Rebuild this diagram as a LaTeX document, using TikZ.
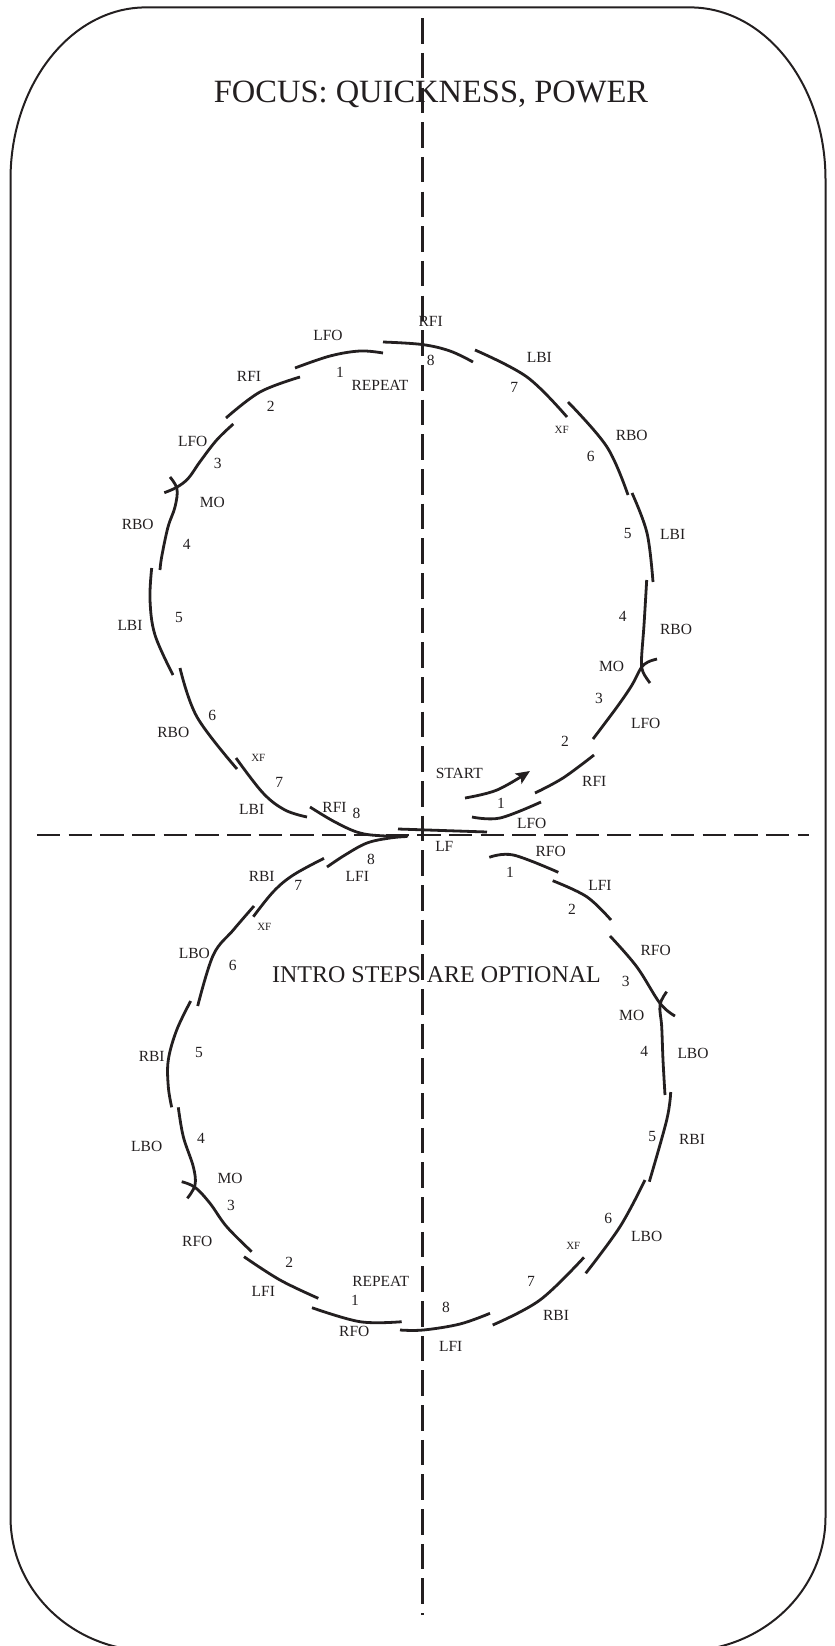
\documentclass[tikz,border=0pt]{standalone}
\usepackage{fontspec}
\setmainfont{Liberation Serif}
\usetikzlibrary{arrows.meta}
\definecolor{ink}{HTML}{231F20}
\begin{document}
\begin{tikzpicture}[x=1pt,y=-1pt,
  edge/.style={draw=ink, line width=2.8pt},
  lbl/.style={text=ink, font=\fontsize{15.5}{18}\selectfont, inner sep=0pt},
  xf/.style={text=ink, font=\fontsize{11}{13}\selectfont, inner sep=0pt},
  title/.style={text=ink, inner sep=0pt},
  axisv/.style={draw=ink, line width=2.5pt, dash pattern=on 25.5pt off 9.17pt},
  axish/.style={draw=ink, line width=2.5pt, dash pattern=on 23.5pt off 8.2pt},
  frame/.style={draw=ink, line width=2pt},
  sk/.style={smooth, tension=0.6}]
\useasboundingbox (0,0) rectangle (835,1646);
\begin{scope}
\clip (0,0) rectangle (835,1646);
\draw[frame] (146,7.4) -- (690,7.4) .. controls (764.8,7.4) and (825.5,84.4) .. (825.5,179.4)
  -- (825.5,1517) .. controls (825.5,1591) and (761.9,1651) .. (683.5,1651)
  -- (151.5,1651) .. controls (73.1,1651) and (10.5,1591) .. (10.5,1517)
  -- (10.5,179.4) .. controls (10.5,84.4) and (71.2,7.4) .. cycle;
\end{scope}

% axes
\coordinate (vtop) at (422.5,18.3);
\coordinate (vbot) at (422.5,1614.5);
\coordinate (hl) at (36.8,835);
\coordinate (hr) at (809,835);
\draw[axisv] (vtop) -- (vbot);
\draw[axish] (hl) -- (hr);

% titles
\node[title, font=\fontsize{32.5}{36}\selectfont] (focus) at (431,94) {FOCUS: QUICKNESS, POWER};
\node[title, font=\fontsize{24}{28}\selectfont] (intro) at (436.5,975) {INTRO STEPS ARE OPTIONAL};

% ---------- upper loop ----------
\draw[edge] plot[sk] coordinates {(295,368) (330,356) (360,351) (383,353)};
\draw[edge] plot[sk] coordinates {(383,342) (422,344.5) (450,351) (473,362)};
\draw[edge] plot[sk] coordinates {(475,350) (527,377) (567,417)};
\draw[edge] plot[sk] coordinates {(568,402) (607,447) (628,495)};
\draw[edge] plot[sk] coordinates {(632,493) (647,533) (653,582)};
\draw[edge] plot[sk] coordinates {(646.7,580) (644,625) (641.5,660) (643,672) (650,683)};
\draw[edge] plot[sk] coordinates {(593,739) (617,707) (632,685) (641,668) (648,662) (657,659)};
\draw[edge] plot[sk] coordinates {(535,793) (563,778) (594,755)};
\draw[edge] plot[sk] coordinates {(472,817) (500,818) (541,802)};
\draw[edge, -{Stealth[length=14pt,width=12pt,inset=3pt]}] plot[sk] coordinates {(465,798) (497,790) (530,771)};
\coordinate (lfa) at (398,829);
\coordinate (lfb) at (487,832);
\draw[edge] (lfa) -- (lfb);
\draw[edge] plot[sk] coordinates {(310,807) (335,822) (360,833) (386,836) (408,836)};
\draw[edge] plot[sk] coordinates {(236,758) (263,793) (285,810) (307,817)};
\draw[edge] plot[sk] coordinates {(180,668) (197,717) (237,769)};
\draw[edge] plot[sk] coordinates {(151.7,568) (150,600) (155,635) (173,675)};
\draw[edge] plot[sk] coordinates {(170,477) (177,489) (175,507) (168,527) (161.7,556.7) (160,570)};
\draw[edge] plot[sk] coordinates {(233.3,424) (216.7,440) (200,461.7) (188.3,478.3) (176.7,487.3) (164.3,492.7)};
\draw[edge] plot[sk] coordinates {(226,418) (260,392) (300,377)};

% ---------- lower loop ----------
\draw[edge] plot[sk] coordinates {(327,867) (345,855) (367,843) (390,838) (407,836.5)};
\draw[edge] plot[sk] coordinates {(253.3,916.7) (273.3,891.7) (293.3,875) (324,858.3)};
\draw[edge] plot[sk] coordinates {(254,906) (233.3,930) (213.3,955) (197.7,1006)};
\draw[edge] plot[sk] coordinates {(190.7,1001) (176.7,1030) (168.3,1060) (168.3,1086.7) (171.7,1107.3)};
\draw[edge] plot[sk] coordinates {(178.3,1107.3) (183.3,1136.7) (193.3,1166.7) (195,1185) (187.3,1198.3)};
\draw[edge] plot[sk] coordinates {(181.7,1181.7) (195,1187.3) (210,1203.3) (226.7,1226.7) (251.7,1251.7)};
\draw[edge] plot[sk] coordinates {(244,1256.7) (280,1280) (318.3,1298.3)};
\draw[edge] plot[sk] coordinates {(312,1307.7) (360,1321.7) (401.7,1321.7)};
\draw[edge] plot[sk] coordinates {(400,1330) (423.3,1330) (460,1324) (490,1313.3)};
\draw[edge] plot[sk] coordinates {(492.7,1325) (540,1300) (584,1257.3)};
\draw[edge] plot[sk] coordinates {(585.7,1273.3) (620,1226.7) (645,1180)};
\draw[edge] plot[sk] coordinates {(649.3,1181.7) (666.7,1120) (670.7,1092)};
\draw[edge] plot[sk] coordinates {(666.7,991.7) (660,1005) (661.7,1026.7) (663,1060) (665,1095)};
\draw[edge] plot[sk] coordinates {(610,936) (636.7,966.7) (660,1003.3) (675,1016)};
\draw[edge] plot[sk] coordinates {(552.7,880.7) (586.7,896.7) (611,920)};
\draw[edge] plot[sk] coordinates {(489.3,857.3) (513.3,855) (558.3,872.3)};

% ---------- labels, upper loop ----------
\node[lbl] (u8a) at (430.7,321.7) {RFI};
\node[lbl] (u8n) at (430.7,360.7) {8};
\node[lbl] (u1a) at (328,335) {LFO};
\node[lbl] (u1n) at (340,372.3) {1};
\node[lbl] (urep) at (380,385) {REPEAT};
\node[lbl] (u2a) at (249,376) {RFI};
\node[lbl] (u2n) at (270.7,406) {2};
\node[lbl] (u3a) at (192.7,441) {LFO};
\node[lbl] (u3n) at (217.7,463.7) {3};
\node[lbl] (umo) at (212.3,502) {MO};
\node[lbl] (u4a) at (137.7,524.3) {RBO};
\node[lbl] (u4n) at (186.7,544.3) {4};
\node[lbl] (u5a) at (130,625) {LBI};
\node[lbl] (u5n) at (179,617.3) {5};
\node[lbl] (u6n) at (212.3,715) {6};
\node[lbl] (u6a) at (173.3,732.7) {RBO};
\node[xf] (uxf) at (258.3,758.3) {XF};
\node[lbl] (u7n) at (279.3,782.7) {7};
\node[lbl] (u7a) at (251.7,809.3) {LBI};
\node[lbl] (u8b) at (334.5,807.5) {RFI};
\node[lbl] (u8m) at (356.5,813.5) {8};
\node[lbl] (lf) at (444.3,846) {LF};
\node[lbl] (start) at (459.3,773.3) {START};
\node[lbl] (r1n) at (501,803.3) {1};
\node[lbl] (r1a) at (531.7,823.3) {LFO};
\node[lbl] (r2a) at (594.3,781.7) {RFI};
\node[lbl] (r2n) at (565,741) {2};
\node[lbl] (r3a) at (645.7,723.3) {LFO};
\node[lbl] (r3n) at (599,698.3) {3};
\node[lbl] (rmo) at (611.7,666) {MO};
\node[lbl] (r4a) at (676,629) {RBO};
\node[lbl] (r4n) at (622.7,616.7) {4};
\node[lbl] (r5a) at (672.7,534) {LBI};
\node[lbl] (r5n) at (627.7,533) {5};
\node[lbl] (r6a) at (631.7,435) {RBO};
\node[lbl] (r6n) at (590.7,456.7) {6};
\node[xf] (rxf) at (561.7,430) {XF};
\node[lbl] (r7a) at (539.3,357.3) {LBI};
\node[lbl] (r7n) at (514.3,387.7) {7};

% ---------- labels, lower loop ----------
\node[lbl] (l8n) at (371,859.3) {8};
\node[lbl] (l8a) at (357.3,876) {LFI};
\node[lbl] (l7a) at (261.7,876) {RBI};
\node[lbl] (l7n) at (298.3,885) {7};
\node[xf] (lxf) at (264.3,927.3) {XF};
\node[lbl] (l6a) at (194.3,953.3) {LBO};
\node[lbl] (l6n) at (232.7,965.7) {6};
\node[lbl] (l5a) at (151.7,1056) {RBI};
\node[lbl] (l5n) at (199,1052.7) {5};
\node[lbl] (l4a) at (146.7,1146) {LBO};
\node[lbl] (l4n) at (201,1138.3) {4};
\node[lbl] (lmo) at (230,1178.3) {MO};
\node[lbl] (l3n) at (231,1205) {3};
\node[lbl] (l3a) at (197.3,1241.7) {RFO};
\node[lbl] (l2n) at (289.3,1262.3) {2};
\node[lbl] (l2a) at (263.3,1291.7) {LFI};
\node[lbl] (lrep) at (380.7,1281.7) {REPEAT};
\node[lbl] (l1n) at (355,1300.7) {1};
\node[lbl] (l1a) at (354.3,1331.7) {RFO};
\node[lbl] (m8n) at (446,1307.3) {8};
\node[lbl] (m8a) at (450.7,1346.7) {LFI};
\node[lbl] (m7n) at (531,1281) {7};
\node[lbl] (m7a) at (556,1315) {RBI};
\node[xf] (mxf) at (573.3,1246) {XF};
\node[lbl] (m6n) at (608.3,1218.3) {6};
\node[lbl] (m6a) at (646.7,1236) {LBO};
\node[lbl] (m5n) at (652.3,1136) {5};
\node[lbl] (m5a) at (692,1139.6) {RBI};
\node[lbl] (m4n) at (644.3,1051.7) {4};
\node[lbl] (m4a) at (693,1053.5) {LBO};
\node[lbl] (mmo) at (631.7,1015) {MO};
\node[lbl] (m3n) at (625.7,981) {3};
\node[lbl] (m3a) at (655.7,950) {RFO};
\node[lbl] (m2n) at (572,909.3) {2};
\node[lbl] (m2a) at (600,885) {LFI};
\node[lbl] (m1n) at (510,872.7) {1};
\node[lbl] (m1a) at (550.7,851.7) {RFO};
\end{tikzpicture}
\end{document}
